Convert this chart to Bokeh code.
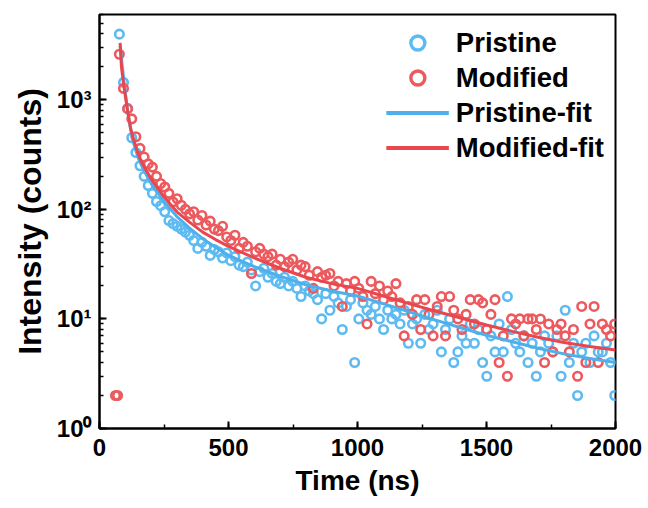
from bokeh.plotting import figure
from bokeh.models import Range1d, SingleIntervalTicker, Legend, LegendItem, ColumnDataSource
from bokeh.embed import file_html
from bokeh.resources import INLINE

# ---------------- data ----------------
time_ns = [77, 93, 109, 125, 141, 157, 173, 189, 205, 221, 237, 253, 269, 285, 301, 317,
           333, 349, 365, 381, 397, 413, 429, 445, 461, 477, 493, 509, 525, 541, 557, 573,
           589, 605, 621, 637, 653, 669, 685, 701, 717, 733, 749, 765, 781, 797, 813, 829,
           845, 861, 877, 893, 909, 925, 941, 957, 973, 989, 1005, 1021, 1037, 1053, 1069,
           1085, 1101, 1117, 1133, 1149, 1165, 1181, 1197, 1213, 1229, 1245, 1261, 1277,
           1293, 1309, 1325, 1341, 1357, 1373, 1389, 1405, 1421, 1437, 1453, 1469, 1485,
           1501, 1517, 1533, 1549, 1565, 1581, 1597, 1613, 1629, 1645, 1661, 1677, 1693,
           1709, 1725, 1741, 1757, 1773, 1789, 1805, 1821, 1837, 1853, 1869, 1885, 1901,
           1917, 1933, 1949, 1965, 1981, 1997]

pristine_counts = [3970, 1440, 830, 450, 330, 250, 200, 165, 140, 118, 108, 95, 79, 74, 70, 66,
                   62, 58, 52, 44, 50, 46, 38, 43, 41, 36, 40, 34, 37, 31, 30, 33,
                   28, 20, 27, 29, 24, 26, 22, 21, 24, 20, 22, 19, 16, 20, 18, 17,
                   15, 10, 17, 12, 16, 14, 8, 13, 15, 4, 10, 14, 12, 11, 13,
                   10, 8, 12, 10, 11, 9, 12, 6, 9, 10, 6, 11, 8,
                   9, 12, 5, 8, 10, 4, 5, 7, 6, 9, 6, 8, 4,
                   3, 7, 5, 9, 5, 16, 8, 6, 5, 7, 4, 6, 3,
                   5, 7, 6, 5, 7, 3, 12, 4, 6, 2, 5, 6, 4,
                   7, 5, 5, 6, 4, 2]

modified_counts = [2600, 1270, 830, 670, 460, 360, 300, 260, 243, 200, 172, 160, 140, 117, 125, 109,
                   100, 91, 95, 80, 88, 72, 78, 66, 64, 70, 56, 52, 58, 44, 50, 46,
                   26, 41, 44, 39, 37, 39, 31, 35, 30, 33, 35, 28, 31, 30, 25, 19,
                   27, 24, 25, 26, 20, 22, 13, 21, 18, 22, 19, 16, 9, 22, 17,
                   20, 15, 18, 16, 21, 14, 7, 13, 11, 15, 8, 15, 11,
                   7, 13, 16, 7, 16, 12, 10, 8, 11, 15, 9, 15, 14,
                   8, 11, 15, 4, 7, 3, 10, 9, 10, 7, 10, 10, 8,
                   10, 4, 9, 5, 8, 9, 7, 5, 8, 3, 13, 4, 9,
                   13, 4, 9, 8, 7, 9]

modified_pre_time = [62, 70]
modified_pre_counts = [2, 2]

pristine_fit_time = [80, 85, 95, 110, 120, 130, 140, 150, 160, 175, 200, 250, 300, 350, 400, 450,
                     500, 600, 700, 800, 900, 1000, 1100, 1200, 1300, 1400, 1500, 1600, 1700,
                     1800, 1900, 2000]
pristine_fit = [3100, 2400, 1450, 760, 540, 420, 350, 295, 260, 220, 172, 118, 86, 67, 54, 45,
                38, 30, 24.5, 20.5, 18, 16.2, 13.8, 11.6, 9.8, 8.3, 7.1, 6.2, 5.4,
                4.8, 4.35, 4.0]

modified_fit_time = pristine_fit_time
modified_fit = [3300, 2000, 1300, 760, 560, 450, 380, 320, 280, 240, 190, 130, 95, 76, 62, 53,
                46, 36, 29, 24, 21, 19, 16.2, 13.8, 11.8, 10.2, 8.8, 7.7, 6.8,
                6.1, 5.6, 5.2]

x_tick_interval = 500
y_tick_labels = {1: "10\u2070", 10: "10\u00b9", 100: "10\u00b2", 1000: "10\u00b3"}
legend_labels = ["Pristine", "Modified", "Pristine-fit", "Modified-fit"]

# ---------------- style ----------------
BLUE_PT = "#5ebbf1"
RED_PT = "#ec5a5e"
BLUE_LN = "#4eb0ea"
RED_LN = "#e8474d"
FONT = "Liberation Sans"

p = figure(width=648, height=508, y_axis_type="log",
           x_range=Range1d(0, 2000), y_range=Range1d(1, 6000),
           output_backend="svg", toolbar_location=None,
           min_border_left=99, min_border_right=33, min_border_top=14, min_border_bottom=80)

p.background_fill_color = "white"
p.border_fill_color = "white"
p.outline_line_color = "black"
p.outline_line_width = 2
p.grid.visible = False

src_p = ColumnDataSource(dict(t=time_ns, c=pristine_counts))
src_m = ColumnDataSource(dict(t=time_ns, c=modified_counts))
src_m0 = ColumnDataSource(dict(t=modified_pre_time, c=modified_pre_counts))

p.scatter("t", "c", source=src_p, marker="circle", size=8.5, line_width=2.6,
          line_color=BLUE_PT, fill_alpha=0)
p.scatter("t", "c", source=src_m, marker="circle", size=8.5, line_width=2.6,
          line_color=RED_PT, fill_alpha=0)
p.scatter("t", "c", source=src_m0, marker="circle", size=8.5, line_width=2.6,
          line_color=RED_PT, fill_alpha=0)
p.line(pristine_fit_time, pristine_fit, line_color=BLUE_LN, line_width=3)
p.line(modified_fit_time, modified_fit, line_color=RED_LN, line_width=3)

# legend-only renderers (a single NaN point, nothing drawn in the plot) so the
# legend keys can be larger/thicker like in the reference
nan = float("nan")
key_src = ColumnDataSource(dict(t=[nan], c=[nan]))
kb = p.scatter("t", "c", source=key_src, marker="circle", size=13, line_width=3.4,
               line_color=BLUE_PT, fill_alpha=0)
kr = p.scatter("t", "c", source=key_src, marker="circle", size=13, line_width=3.4,
               line_color=RED_PT, fill_alpha=0)
klb = p.line("t", "c", source=key_src, line_color=BLUE_LN, line_width=4)
klr = p.line("t", "c", source=key_src, line_color=RED_LN, line_width=4)

# axes
xa = p.xaxis[0]
xa.ticker = SingleIntervalTicker(interval=x_tick_interval, num_minor_ticks=2)
ya = p.yaxis[0]
for ax in (xa, ya):
    ax.axis_line_width = 2
    ax.axis_line_color = "black"
    ax.major_tick_in = 7
    ax.major_tick_out = 0
    ax.minor_tick_in = 4
    ax.minor_tick_out = 0
    ax.major_tick_line_width = 2
    ax.minor_tick_line_width = 1.5
    ax.major_label_text_font = FONT
    ax.major_label_text_font_style = "bold"
    ax.major_label_text_font_size = "24px"
    ax.major_label_text_color = "black"
    ax.axis_label_text_font = FONT
    ax.axis_label_text_font_style = "bold"
    ax.axis_label_text_color = "black"

ya.major_label_overrides = y_tick_labels
xa.axis_label = "Time (ns)"
xa.axis_label_text_font_size = "28px"
xa.major_label_standoff = 10
xa.axis_label_standoff = 6
ya.axis_label = "Intensity (counts)"
ya.axis_label_text_font_size = "32px"
ya.major_label_standoff = 8
ya.axis_label_standoff = 6

legend = Legend(items=[LegendItem(label=legend_labels[0], renderers=[kb]),
                       LegendItem(label=legend_labels[1], renderers=[kr]),
                       LegendItem(label=legend_labels[2], renderers=[klb]),
                       LegendItem(label=legend_labels[3], renderers=[klr])],
                location="top_right")
legend.border_line_color = None
legend.background_fill_alpha = 0
legend.label_text_font = FONT
legend.label_text_font_style = "bold"
legend.label_text_font_size = "27.5px"
legend.label_text_color = "black"
legend.glyph_width = 63
legend.glyph_height = 35
legend.label_height = 35
legend.spacing = 0
legend.padding = 8
legend.margin = 11
legend.label_standoff = 7
p.add_layout(legend)

open("out.html", "w").write(file_html(p, INLINE))
